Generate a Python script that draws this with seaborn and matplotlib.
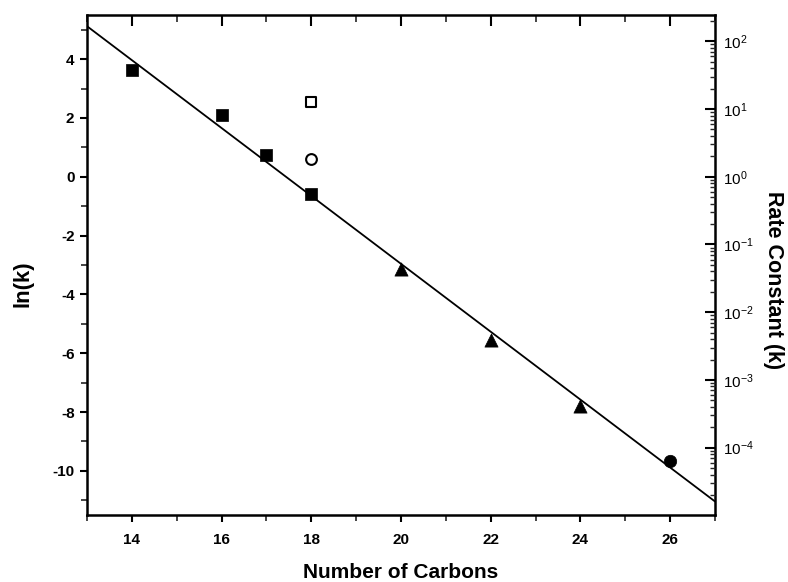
import numpy as np
import pandas as pd
import matplotlib
matplotlib.use("Agg")
import matplotlib.pyplot as plt
import seaborn as sns
from matplotlib.ticker import MultipleLocator, LogLocator, NullFormatter, FuncFormatter

sns.set_theme(style="white")
plt.rcParams['font.family'] = ['Liberation Sans', 'DejaVu Sans']
plt.rcParams['axes.unicode_minus'] = False
plt.rcParams['mathtext.default'] = 'regular'

# Data
sq_x = [14, 16, 17, 18]
sq_y = [3.63, 2.10, 0.75, -0.60]
open_sq_x = [18]
open_sq_y = [2.54]
open_circ_x = [18]
open_circ_y = [0.61]
tri_x = [20, 22, 24]
tri_y = [-3.12, -5.55, -7.78]
circ_x = [26]
circ_y = [-9.68]
fit_x = [13, 27]
fit_y = [5.12, -11.04]

xlim = (13, 27)
ylim = (-11.5, 5.5)

fig = plt.figure(figsize=(7.88, 5.82), dpi=100)
ax = fig.add_axes([87/788, 1 - 515/582, (715 - 87)/788, (515 - 15)/582])

sns.lineplot(x=fit_x, y=fit_y, ax=ax, color='black', linewidth=1.3)
sns.scatterplot(x=sq_x, y=sq_y, ax=ax, marker='s', s=80, color='black', edgecolor='black', linewidth=0.5)
sns.scatterplot(x=open_sq_x, y=open_sq_y, ax=ax, marker='s', s=60, facecolor='white', edgecolor='black', linewidth=1.5)
sns.scatterplot(x=open_circ_x, y=open_circ_y, ax=ax, marker='o', s=60, facecolor='white', edgecolor='black', linewidth=1.5)
sns.scatterplot(x=tri_x, y=tri_y, ax=ax, marker='^', s=90, color='black', edgecolor='black', linewidth=0.5)
sns.scatterplot(x=circ_x, y=circ_y, ax=ax, marker='o', s=80, color='black', edgecolor='black', linewidth=0.5)

ax.set_xlim(*xlim)
ax.set_ylim(*ylim)
ax.xaxis.set_major_locator(MultipleLocator(2))
ax.xaxis.set_minor_locator(MultipleLocator(1))
ax.yaxis.set_major_locator(MultipleLocator(2))
ax.yaxis.set_minor_locator(MultipleLocator(1))
for s in ax.spines.values():
    s.set_color('black')
    s.set_linewidth(1.8)

ax.tick_params(axis='x', which='major', direction='out', length=5, width=1.5, bottom=True, top=True,
               labelsize=11, colors='black', pad=8)
ax.tick_params(axis='x', which='minor', direction='out', length=4, width=1.2, bottom=True, top=True)
ax.tick_params(axis='y', which='major', direction='out', length=5, width=1.5, left=True,
               labelsize=11, colors='black', pad=4)
ax.tick_params(axis='y', which='minor', direction='out', length=4, width=1.2, left=True)
# top ticks pointing inward
for t in ax.xaxis.get_major_ticks():
    t.tick2line.set_marker(3)
    t.tick2line.set_markersize(8)
for t in ax.xaxis.get_minor_ticks():
    t.tick2line.set_marker(3)
    t.tick2line.set_markersize(5)

ax.set_xlabel('Number of Carbons', fontsize=15, fontweight='bold', color='black')
ax.xaxis.set_label_coords(0.5, -0.095)
ax.set_ylabel('ln(k)', fontsize=16, fontweight='bold', color='black')
ax.yaxis.set_label_coords(-0.085, 0.462)
for lbl in ax.get_xticklabels() + ax.get_yticklabels():
    lbl.set_fontweight('bold')

ax2 = ax.twinx()
ax2.set_yscale('log')
ax2.set_ylim(np.exp(ylim[0]), np.exp(ylim[1]))
ax2.yaxis.set_major_locator(LogLocator(base=10, numticks=20))
ax2.yaxis.set_minor_locator(LogLocator(base=10, subs=np.arange(2, 10), numticks=20))
ax2.yaxis.set_minor_formatter(NullFormatter())
ax2.yaxis.set_major_formatter(FuncFormatter(lambda v, p: '10$^{%d}$' % int(round(np.log10(v)))))
ax2.tick_params(axis='y', which='major', direction='in', length=7, width=1.5, right=True,
                labelsize=11, colors='black', pad=6)
ax2.tick_params(axis='y', which='minor', direction='in', length=3.5, width=1.0, right=True)
ax2.xaxis.set_visible(False)
for s in ax2.spines.values():
    s.set_visible(False)
ax2.set_ylabel('Rate Constant (k)', fontsize=15.5, fontweight='bold', color='black', rotation=270)
ax2.yaxis.set_label_coords(1.11, 0.47)

for a in (ax, ax2):
    a.xaxis.get_offset_text().set_visible(False)
    a.yaxis.get_offset_text().set_visible(False)

fig.savefig('out.png', dpi=100)
